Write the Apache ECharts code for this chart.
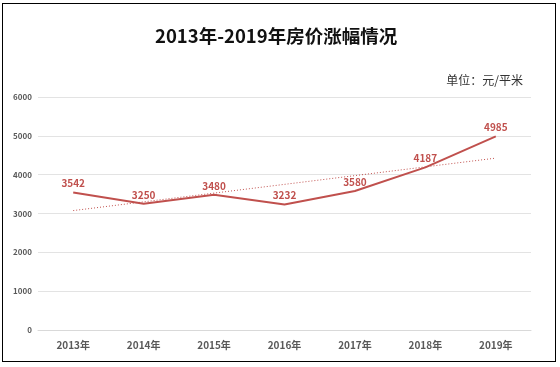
<!DOCTYPE html>
<html><head><meta charset="utf-8">
<script src="https://cdn.jsdelivr.net/npm/echarts@6/dist/echarts.min.js"></script>
<style>
html,body{margin:0;padding:0;background:#fff;width:560px;height:367px;overflow:hidden}
#frame{position:absolute;left:2px;top:3px;width:552px;height:357px;border:1px solid #000}
#c{position:absolute;left:0;top:0;width:560px;height:367px}
</style></head><body>
<div id="frame"></div>
<div id="c"></div>
<script>
var categories = ['2013年','2014年','2015年','2016年','2017年','2018年','2019年'];
var prices = [3542, 3250, 3480, 3232, 3580, 4187, 4985];
var trendEnds = [3075, 4426];
var yTicks = [0, 1000, 2000, 3000, 4000, 5000, 6000];

var chart = echarts.init(document.getElementById('c'), null, {renderer:'canvas'});
var red = '#c0504d';
var font = '"Noto Sans CJK SC", "Noto Sans", sans-serif';
var trendData = categories.map(function(c,i){
  if (i === 0) return trendEnds[0];
  if (i === categories.length-1) return trendEnds[1];
  return null;
});
chart.setOption({
  animation:false,
  backgroundColor:'transparent',
  title:[{
    text:'2013年-2019年房价涨幅情况',
    left:150, top:22,
    textStyle:{fontSize:18.5,fontWeight:'bold',color:'#111',fontFamily:font}
  },{
    text:'单位：元/平米',
    right:32, top:69,
    textStyle:{fontSize:12,fontWeight:'normal',color:'#333',fontFamily:font}
  }],
  grid:{left:38,right:29,top:97,bottom:37,containLabel:false},
  xAxis:{
    type:'category', data:categories, boundaryGap:true,
    axisLine:{show:true,lineStyle:{color:'#d9d9d9'}},
    axisTick:{show:false},
    axisLabel:{color:'#595959',fontSize:10,fontWeight:'bold',margin:10,fontFamily:font}
  },
  yAxis:{
    type:'value', min:yTicks[0], max:yTicks[yTicks.length-1], interval:1000,
    axisLine:{show:false}, axisTick:{show:false},
    axisLabel:{color:'#595959',fontSize:8,fontWeight:'bold',margin:6,fontFamily:font,
      formatter:function(v){return String(v);}},
    splitLine:{lineStyle:{color:'#e3e3e3'}}
  },
  series:[{
    type:'line', data:prices, symbol:'circle', symbolSize:0, showSymbol:true,
    itemStyle:{color:red},
    lineStyle:{color:red,width:2},
    label:{show:true,position:'top',distance:4,color:red,fontSize:10,fontWeight:'bold',fontFamily:font}
  },{
    type:'line', data:trendData, connectNulls:true, symbol:'none',
    lineStyle:{color:red,width:1,type:[1,2]}
  }]
});
</script>
</body></html>
